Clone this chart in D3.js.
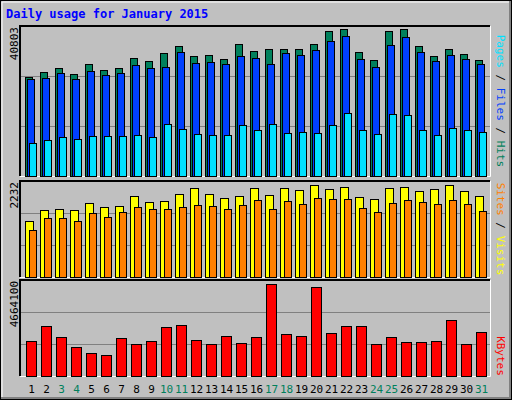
<!DOCTYPE html>
<html><head><meta charset="utf-8">
<script src="https://cdn.jsdelivr.net/npm/d3@7"></script>
<style>body{margin:0;background:#fff}</style></head>
<body><svg id="c" width="512" height="400"></svg>
<script>
const days = d3.range(1, 32);
const weekend = [3,4,10,11,17,18,24,25,31];
const hits = [27010,28206,29294,27662,30382,28750,29294,32014,31198,33374,35278,32558,32830,31742,35822,33918,34462,34462,34462,35822,39358,39902,33646,31470,39358,39902,35278,32558,34462,33102,31470];
const files = [26302,26574,27934,26302,28478,27390,27934,30110,29294,29566,33646,30654,30926,30382,32558,32014,30382,33374,32830,34190,36638,37998,31742,29566,35550,37726,33646,31198,32830,31742,30382];
const pages = [8894,9710,10526,9982,10798,10798,10798,11070,10526,14062,12702,11342,11070,11070,13790,12430,14062,11614,11886,11614,13790,17054,12430,11342,16782,16510,12430,11070,12974,12430,11886];
const sites = [1307,1563,1587,1563,1727,1633,1657,1890,1750,1773,1937,2077,1937,1843,1890,2077,1913,2077,2030,2146,2053,2100,1867,1820,2077,2100,2007,2053,2146,2007,1890];
const visits = [1097,1377,1377,1307,1493,1400,1517,1633,1587,1587,1633,1680,1657,1587,1680,1797,1587,1773,1703,1843,1820,1820,1610,1517,1727,1797,1750,1703,1797,1703,1540];
const kbytes = [1718000,2405000,1915000,1424000,1129000,1031000,1866000,1571000,1718000,2357000,2455000,1767000,1571000,1964000,1620000,1915000,4468000,2062000,1964000,4320000,2111000,2405000,2405000,1571000,1915000,1669000,1669000,1718000,2700000,1571000,2160000];
const maxLabels = ["40803","2232","4664100"];

const svg = d3.select("#c");
const F = "DejaVu Sans Mono, monospace";
svg.append("rect").attr("x",0).attr("y",0).attr("width",512).attr("height",400).attr("fill","#C0C0C0");
// bevel
svg.append("path").attr("d","M511.5,0.5 V399.5 H0.5").attr("stroke","#808080").attr("stroke-width",5).attr("fill","none");
svg.append("rect").attr("x",0.5).attr("y",0.5).attr("width",511).attr("height",399).attr("fill","none").attr("stroke","#000");
svg.append("path").attr("d","M2,397 V2 H509").attr("stroke","#fff").attr("fill","none");
svg.append("text").attr("x",6).attr("y",18).attr("font-family",F).attr("font-weight","bold").attr("font-size",12).attr("fill","#0000FF").text("Daily usage for January 2015");

const x = d3.scaleBand().domain(days).range([22,487]).paddingInner(0);
const L=20,R=490;
function panel(top,bottom,max,label){
  svg.append("path").attr("d",`M${L},${bottom} V${top} H${R}`).attr("stroke","#000").attr("stroke-width",2).attr("fill","none");
  svg.append("path").attr("d",`M${L},${bottom+0.5} H${R+0.5} V${top}`).attr("stroke","#fff").attr("fill","none");
  const y = d3.scaleLinear().domain([0,max]).range([bottom,top]);
  [1/3,2/3].forEach(f=>svg.append("line").attr("x1",L+1).attr("x2",R).attr("y1",Math.round(y(max*f))+0.5).attr("y2",Math.round(y(max*f))+0.5).attr("stroke","#808080"));
  svg.append("text").attr("transform",`translate(${L-2},${top+1}) rotate(-90)`).attr("text-anchor","end").attr("font-family",F).attr("font-size",11).attr("fill","#000").text(label);
  return y;
}
function bars(y,data,dx,w,color){
  svg.append("g").selectAll("rect").data(data).join("rect")
   .attr("x",(d,i)=>x(days[i])+dx+0.5).attr("y",d=>Math.round(y(d))+0.5)
   .attr("width",w).attr("height",d=>y(0)-Math.round(y(d)))
   .attr("fill",color).attr("stroke","#000");
}
const y1 = panel(26,176,40803,maxLabels[0]);
bars(y1,hits,3,7,"#00805C");
bars(y1,files,5,7,"#0040FF");
bars(y1,pages,7,7,"#00E0FF");
const y2 = panel(181,277,2232,maxLabels[1]);
bars(y2,sites,3,8,"#FFFF00");
bars(y2,visits,7,7,"#FF8000");
const y3 = panel(280,376,4664100,maxLabels[2]);
bars(y3,kbytes,4,10,"#FF0000");

svg.append("g").selectAll("text").data(days).join("text")
  .attr("x",d=>x(d)+x.bandwidth()/2+2).attr("y",393).attr("text-anchor","middle")
  .attr("font-family",F).attr("font-size",11)
  .attr("fill",d=>weekend.includes(d)?"#00805C":"#000").text(d=>d);

function rlabel(yc,parts){
  const t = svg.append("text").attr("transform",`translate(497,${yc}) rotate(90)`).attr("text-anchor","middle").attr("font-family",F).attr("font-size",11);
  parts.forEach(p=>t.append("tspan").attr("fill",p[1]).text(p[0]));
}
rlabel(101,[["Pages","#00E0FF"],[" / ","#000"],["Files","#0040FF"],[" / ","#000"],["Hits","#00805C"]]);
rlabel(229,[["Sites","#FF8000"],[" / ","#000"],["Visits","#FFFF00"]]);
rlabel(356,[["KBytes","#FF0000"]]);
</script></body></html>
